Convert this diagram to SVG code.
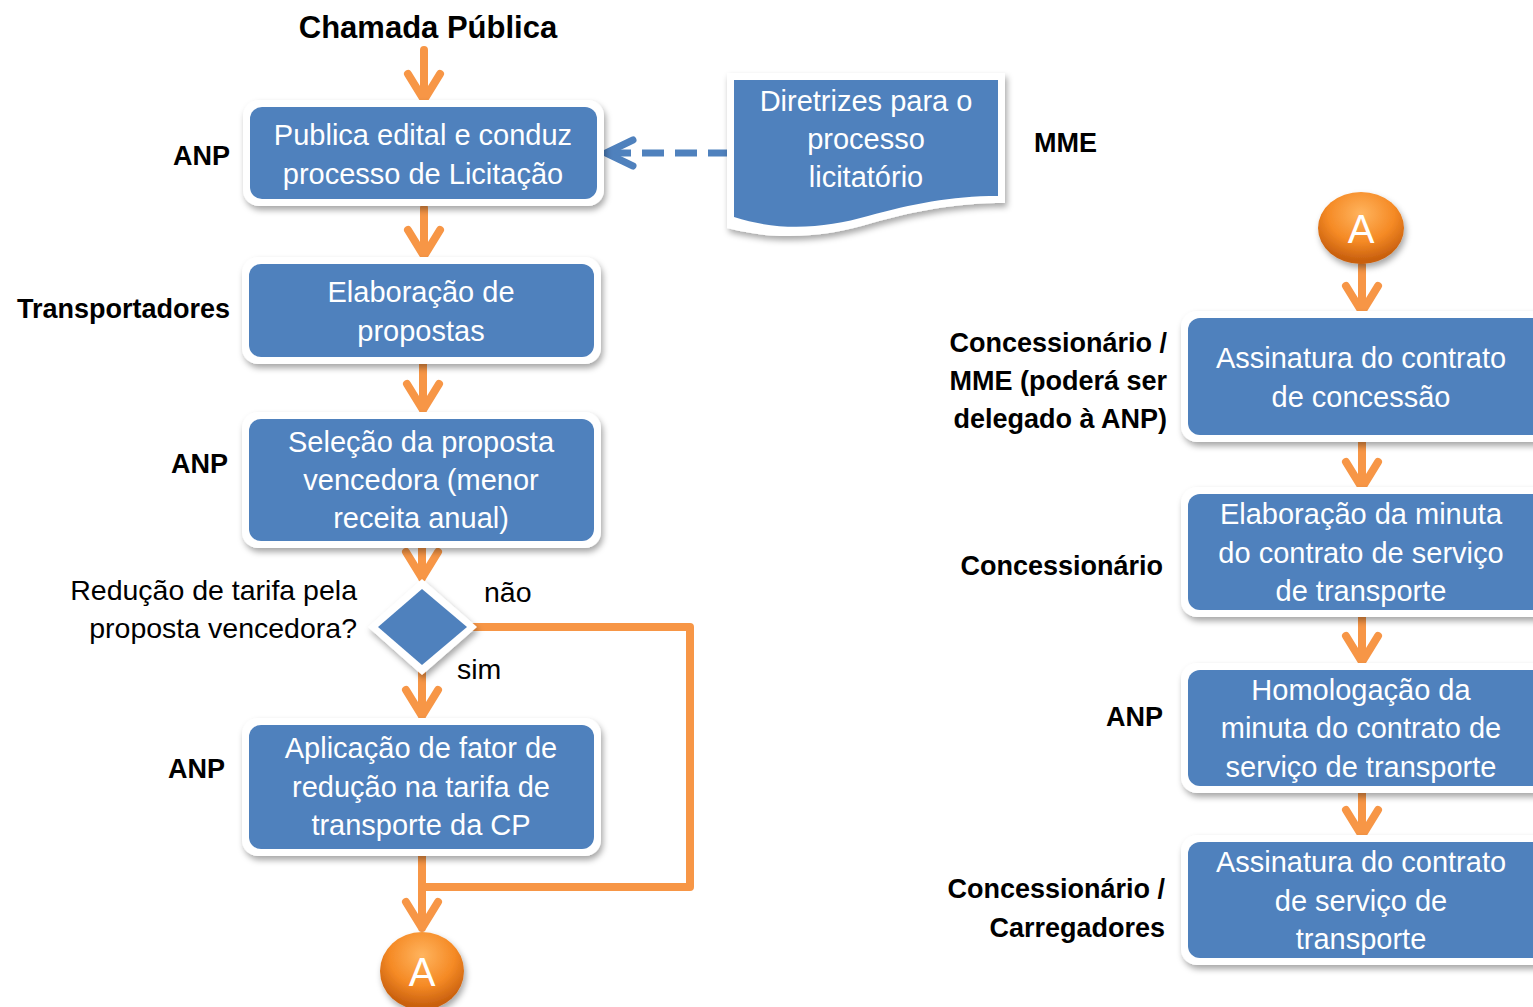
<svg xmlns="http://www.w3.org/2000/svg" width="1533" height="1007" viewBox="0 0 1533 1007">
<defs>
<filter id="sh" x="-10%" y="-20%" width="125%" height="150%">
<feDropShadow dx="2" dy="4" stdDeviation="3" flood-color="#000" flood-opacity="0.35"/>
</filter>
<radialGradient id="og" cx="50%" cy="30%" r="65%">
<stop offset="0" stop-color="#FFB45E"/>
<stop offset="0.6" stop-color="#F58A25"/>
<stop offset="1" stop-color="#C9600E"/>
</radialGradient>
<style>
.outer{fill:#fff;filter:url(#sh)}
.box{fill:#4F81BD}
.bt{font-family:"Liberation Sans",Arial,sans-serif;font-size:29px;fill:#fff;text-anchor:middle}
.lb{font-family:"Liberation Sans",Arial,sans-serif;font-size:27px;font-weight:bold;fill:#000;text-anchor:end}
.lr{font-family:"Liberation Sans",Arial,sans-serif;font-size:28.5px;fill:#000}
.ar{fill:none;stroke:#F79646;stroke-width:8;stroke-linecap:round;stroke-linejoin:round}
.da{fill:none;stroke:#4F81BD;stroke-width:7;stroke-linejoin:round}
.ca{font-family:"Liberation Sans",Arial,sans-serif;font-size:40px;fill:#fff;text-anchor:middle}
</style>
</defs>
<rect width="1533" height="1007" fill="#fff"/>

<text x="428" y="38" font-family="'Liberation Sans',Arial,sans-serif" font-size="31" font-weight="bold" text-anchor="middle">Chamada Pública</text>

<g id="connectors">
<path class="ar" d="M424,50 V100 M408,74 L424,100 L440,74"/>
<path class="ar" d="M424,208 V256 M408,230 L424,256 L440,230"/>
<path class="ar" d="M423,364 V410 M407,384 L423,410 L439,384"/>
<path class="ar" d="M422,546 V578 M406,552 L422,578 L438,552"/>
<path class="ar" d="M422,672 V716 M406,690 L422,716 L438,690"/>
<path class="ar" d="M472,627 H690 V887 H422"/>
<path class="ar" d="M422,856 V928 M406,902 L422,928 L438,902"/>
<path class="da" d="M730,153 H612" stroke-dasharray="22,11"/>
<path class="da" d="M633,140 L606,153 L633,166" stroke-linecap="round"/>
<path class="ar" d="M1362,265 V312 M1346,286 L1362,312 L1378,286"/>
<path class="ar" d="M1362,442 V488 M1346,462 L1362,488 L1378,462"/>
<path class="ar" d="M1362,617 V662 M1346,636 L1362,662 L1378,636"/>
<path class="ar" d="M1362,792 V836 M1346,810 L1362,836 L1378,810"/>
</g>

<g id="n1">
<rect class="outer" x="243" y="100" width="361" height="106" rx="16"/>
<rect class="box" x="250" y="107" width="347" height="92" rx="12"/>
<text class="bt" x="423" y="145">Publica edital e conduz</text>
<text class="bt" x="423" y="184">processo de Licitação</text>
</g>
<text class="lb" x="230" y="165">ANP</text>

<g id="doc">
<path class="outer" d="M727,73 H1005 V203 C955,203 915,211 872,223 C830,236 780,242 727,228 Z"/>
<path class="box" d="M734,80 H998 V196 C950,196 912,204 868,216 C826,228 780,232 734,217 Z"/>
<text class="bt" x="866" y="111">Diretrizes para o</text>
<text class="bt" x="866" y="149">processo</text>
<text class="bt" x="866" y="187">licitatório</text>
</g>
<text class="lb" x="1097" y="152" font-size="29">MME</text>

<g id="n2">
<rect class="outer" x="242" y="257" width="359" height="107" rx="16"/>
<rect class="box" x="249" y="264" width="345" height="93" rx="12"/>
<text class="bt" x="421" y="302">Elaboração de</text>
<text class="bt" x="421" y="341">propostas</text>
</g>
<text class="lb" x="230" y="318">Transportadores</text>

<g id="n3">
<rect class="outer" x="242" y="412" width="359" height="136" rx="16"/>
<rect class="box" x="249" y="419" width="345" height="122" rx="12"/>
<text class="bt" x="421" y="452">Seleção da proposta</text>
<text class="bt" x="421" y="490">vencedora (menor</text>
<text class="bt" x="421" y="528">receita anual)</text>
</g>
<text class="lb" x="228" y="473">ANP</text>

<g id="dec">
<path class="outer" d="M368,627 L422,579 L477,627 L422,675 Z"/>
<path class="box" d="M378,627 L422,589 L467,627 L422,665 Z"/>
</g>
<text class="lr" x="357" y="600" text-anchor="end">Redução de tarifa pela</text>
<text class="lr" x="357" y="638" text-anchor="end">proposta vencedora?</text>
<text class="lr" x="484" y="602">não</text>
<text class="lr" x="457" y="679">sim</text>

<g id="n4">
<rect class="outer" x="242" y="718" width="359" height="138" rx="16"/>
<rect class="box" x="249" y="725" width="345" height="124" rx="12"/>
<text class="bt" x="421" y="758">Aplicação de fator de</text>
<text class="bt" x="421" y="797">redução na tarifa de</text>
<text class="bt" x="421" y="835">transporte da CP</text>
</g>
<text class="lb" x="225" y="778">ANP</text>

<g id="a1">
<ellipse cx="422" cy="971" rx="42" ry="39" fill="url(#og)" filter="url(#sh)"/>
<text class="ca" x="422" y="986">A</text>
</g>

<g id="a2">
<ellipse cx="1361" cy="228" rx="43" ry="36" fill="url(#og)" filter="url(#sh)"/>
<text class="ca" x="1361" y="243">A</text>
</g>

<g id="r1">
<rect class="outer" x="1181" y="311" width="370" height="131" rx="16"/>
<rect class="box" x="1188" y="318" width="360" height="117" rx="12"/>
<text class="bt" x="1361" y="368">Assinatura do contrato</text>
<text class="bt" x="1361" y="407">de concessão</text>
</g>
<text class="lb" x="1167" y="352">Concessionário /</text>
<text class="lb" x="1167" y="390">MME (poderá ser</text>
<text class="lb" x="1167" y="428">delegado à ANP)</text>

<g id="r2">
<rect class="outer" x="1181" y="487" width="370" height="130" rx="16"/>
<rect class="box" x="1188" y="494" width="360" height="116" rx="12"/>
<text class="bt" x="1361" y="524">Elaboração da minuta</text>
<text class="bt" x="1361" y="563">do contrato de serviço</text>
<text class="bt" x="1361" y="601">de transporte</text>
</g>
<text class="lb" x="1163" y="575">Concessionário</text>

<g id="r3">
<rect class="outer" x="1181" y="663" width="370" height="130" rx="16"/>
<rect class="box" x="1188" y="670" width="360" height="116" rx="12"/>
<text class="bt" x="1361" y="700">Homologação da</text>
<text class="bt" x="1361" y="738">minuta do contrato de</text>
<text class="bt" x="1361" y="777">serviço de transporte</text>
</g>
<text class="lb" x="1163" y="726">ANP</text>

<g id="r4">
<rect class="outer" x="1181" y="835" width="370" height="130" rx="16"/>
<rect class="box" x="1188" y="842" width="360" height="116" rx="12"/>
<text class="bt" x="1361" y="872">Assinatura do contrato</text>
<text class="bt" x="1361" y="911">de serviço de</text>
<text class="bt" x="1361" y="949">transporte</text>
</g>
<text class="lb" x="1165" y="898">Concessionário /</text>
<text class="lb" x="1165" y="937">Carregadores</text>
</svg>
